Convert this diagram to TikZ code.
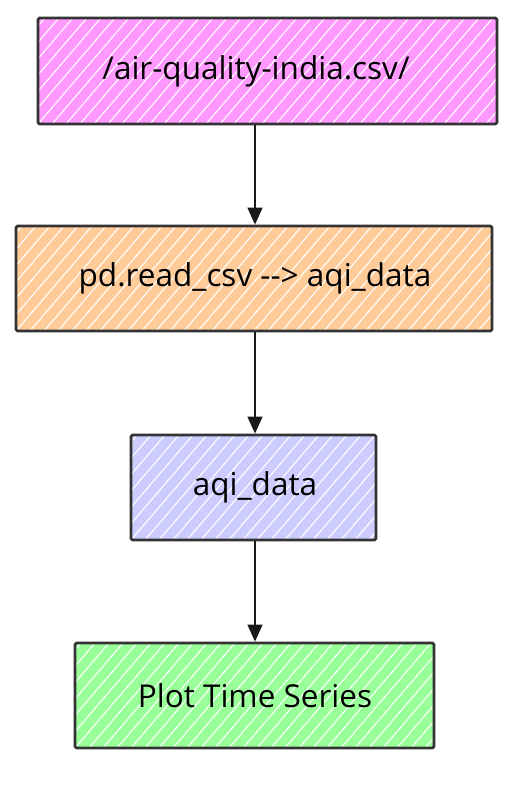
\documentclass[tikz,border=0pt]{standalone}
\usepackage{fontspec}
\setmainfont{Open Sans}[Ligatures=NoCommon]
\usetikzlibrary{arrows.meta}
\definecolor{cmag}{HTML}{FF99FF}
\definecolor{corange}{HTML}{FFCC99}
\definecolor{clav}{HTML}{CCCCFF}
\definecolor{cgreen}{HTML}{99FF99}
\definecolor{cline}{HTML}{333333}
\tikzset{
  x=1pt, y=-1pt,
  boxnode/.style={draw=cline, line width=2.8pt, rounded corners=1.5pt, inner sep=0pt},
  txt/.style={font=\fontsize{31.5}{36}\selectfont, text=black, inner sep=0pt},
  conn/.style={draw=black!90, line width=1.3pt, -{Triangle[length=17pt,width=15pt]}},
}
\begin{document}
\begin{tikzpicture}
\useasboundingbox (0,0) rectangle (526,790);
% fills with hatch
\foreach \xa/\ya/\xb/\yb/\col in {38/18/497/124/cmag, 16/226/492/331/corange, 131/435/376/540/clav, 75/643/434/748/cgreen}{
  \fill[\col] (\xa,\ya) rectangle (\xb,\yb);
  \begin{scope}
    \clip (\xa,\ya) rectangle (\xb,\yb);
    \foreach \k in {-140,-126,...,500}{
      \draw[white, line width=1.1pt] (\xa+\k,\yb) -- ++(120,-140);
    }
  \end{scope}
}
\node[boxnode, minimum width=459pt, minimum height=106pt] (b1) at (267.5,71) {};
\node[boxnode, minimum width=476pt, minimum height=105pt] (b2) at (254,278.5) {};
\node[boxnode, minimum width=245pt, minimum height=105pt] (b3) at (253.5,487.5) {};
\node[boxnode, minimum width=359pt, minimum height=105pt] (b4) at (254.5,695.5) {};
\node[txt] (t1) at (256,71) {/air-quality-india.csv/};
\node[txt] (t2) at (255,278.5) {pd.read\_csv -{}-{}> aqi\_data};
\node[txt] (t3) at (255,487.5) {aqi\_data};
\node[txt] (t4) at (255,695.5) {Plot Time Series};
\coordinate (ax) at (255,0);
\draw[conn] (b1.south -| ax) -- (b2.north -| ax);
\draw[conn] (b2.south -| ax) -- (b3.north -| ax);
\draw[conn] (b3.south -| ax) -- (b4.north -| ax);
\end{tikzpicture}
\end{document}
